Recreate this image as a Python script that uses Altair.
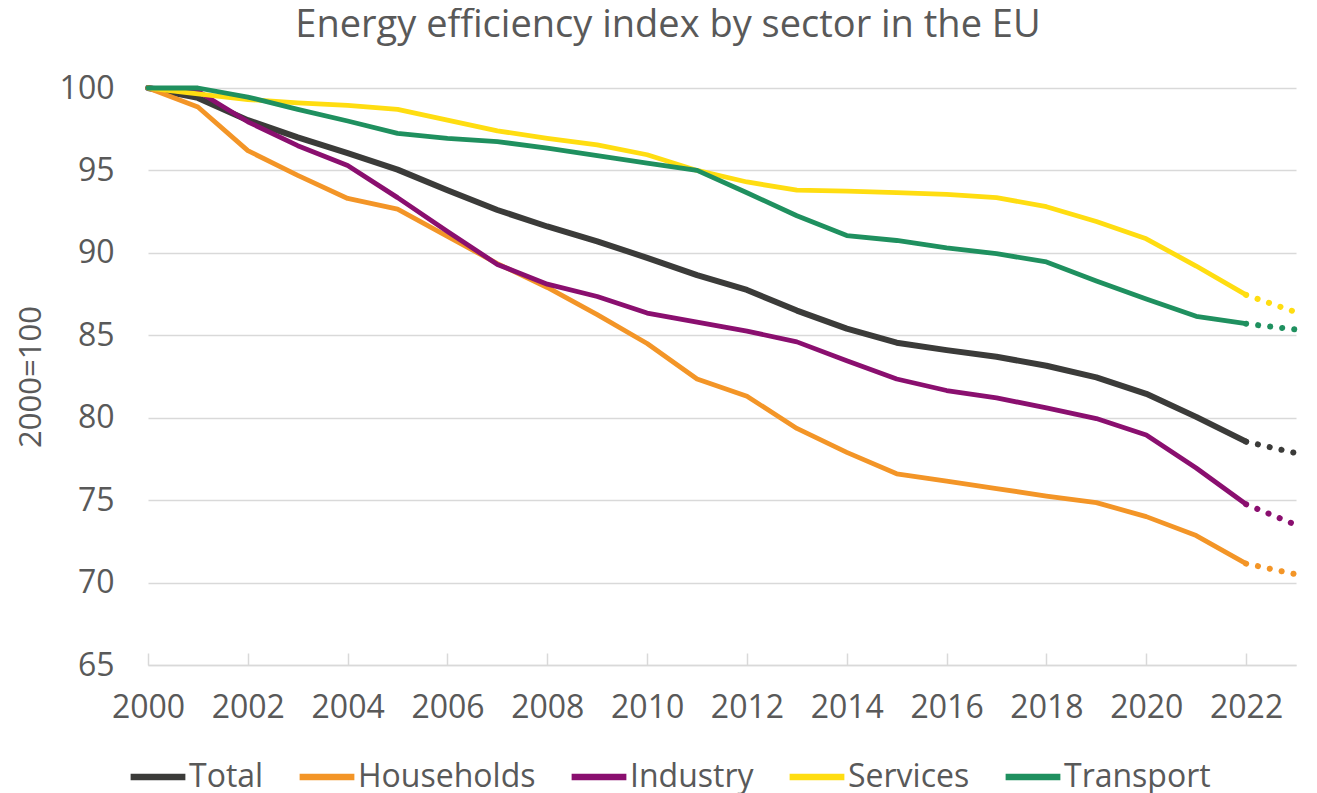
import altair as alt
import pandas as pd

years = list(range(2000, 2024))
sectors = ["Total", "Households", "Industry", "Services", "Transport"]
colors = ["#3b3b39", "#f39527", "#8a0f6f", "#ffdd11", "#1f905f"]

total = [100, 99.4, 98.05, 97.0, 96.05, 95.05, 93.8, 92.6, 91.6, 90.7, 89.7, 88.65,
         87.75, 86.5, 85.4, 84.55, 84.1, 83.7, 83.15, 82.45, 81.45, 80.05, 78.55, 77.85]
households = [100, 98.85, 96.2, 94.7, 93.3, 92.65, 91.0, 89.35, 87.9, 86.25, 84.5, 82.35,
              81.3, 79.35, 77.9, 76.6, 76.15, 75.7, 75.25, 74.85, 74.0, 72.85, 71.15, 70.5]
industry = [100, 99.8, 97.95, 96.5, 95.3, 93.35, 91.3, 89.3, 88.1, 87.35, 86.35, 85.8,
            85.25, 84.6, 83.45, 82.35, 81.65, 81.2, 80.6, 79.95, 78.95, 76.95, 74.75, 73.5]
services = [100, 99.65, 99.3, 99.1, 98.95, 98.7, 98.05, 97.4, 96.95, 96.55, 95.95, 95.0,
            94.3, 93.8, 93.75, 93.65, 93.55, 93.35, 92.8, 91.9, 90.85, 89.2, 87.45, 86.4]
transport = [100, 100, 99.45, 98.7, 98.0, 97.25, 96.95, 96.75, 96.35, 95.9, 95.45, 95.0,
             93.65, 92.25, 91.05, 90.75, 90.3, 89.95, 89.45, 88.3, 87.2, 86.15, 85.7, 85.35]

x_ticks = list(range(2000, 2023, 2))
y_ticks = [65, 70, 75, 80, 85, 90, 95, 100]

rows = []
for s, vals in zip(sectors, [total, households, industry, services, transport]):
    for yr, v in zip(years, vals):
        rows.append({"year": yr, "sector": s, "value": v})
df = pd.DataFrame(rows)

FONT = "Open Sans"
GREY = "#595959"
GRID = "#d9d9d9"

x_scale = alt.Scale(domain=[2000, 2023], nice=False, zero=False)
y_scale = alt.Scale(domain=[65, 100], nice=False, zero=False)

color = alt.Color(
    "sector:N",
    scale=alt.Scale(domain=sectors, range=colors),
    sort=sectors,
    legend=alt.Legend(
        title=None, orient="none", direction="horizontal",
        legendX=-21, legendY=658,
        symbolType="stroke", symbolSize=3000, symbolStrokeWidth=6.5,
        symbolDash=[1, 0],
        labelFont=FONT, labelFontSize=32, labelColor=GREY, labelLimit=400,
        labelOffset=0, columnPadding=22, padding=0,
    ),
)

base = alt.Chart(df).transform_calculate(
    weight="datum.sector == 'Total' ? 'thick' : 'thin'"
)

solid = base.transform_filter("datum.year <= 2022").mark_line(
    strokeCap="round", strokeJoin="round"
).encode(
    x=alt.X("year:Q", scale=x_scale, axis=alt.Axis(
        values=x_ticks, format="d", title=None, ticks=False, grid=False,
        orient="bottom", labelOverlap=False, labelFlush=False,
        domain=True, domainColor=GRID, domainWidth=1.5,
        labelFont=FONT, labelFontSize=32, labelColor=GREY, labelPadding=27,
    )),
    y=alt.Y("value:Q", scale=y_scale, axis=alt.Axis(
        values=y_ticks, title="2000=100", grid=True, gridColor=GRID, gridWidth=1.5,
        domain=False, ticks=False, labelPadding=34,
        labelFont=FONT, labelFontSize=32, labelColor=GREY,
        titleFont=FONT, titleFontSize=31, titleColor=GREY, titleFontWeight="normal",
        titlePadding=12,
    )),
    color=color,
    detail="sector:N",
    strokeWidth=alt.StrokeWidth("weight:N", scale=alt.Scale(domain=["thick", "thin"], range=[6, 4.8]), legend=None),
)

dotted = base.transform_filter("datum.year >= 2022").mark_line(
    strokeDash=[0.1, 12], strokeCap="round", strokeWidth=6
).encode(
    x=alt.X("year:Q", scale=x_scale, axis=alt.Axis(
        values=x_ticks, title=None, labels=False, grid=False, domain=False,
        orient="bottom", ticks=True, tickSize=12, tickColor=GRID, tickWidth=1.5,
        offset=-12,
    )),
    y=alt.Y("value:Q", scale=y_scale),
    color=color,
)

chart = alt.layer(solid, dotted).resolve_axis(x="independent").properties(
    width=1148, height=577,
    autosize=alt.AutoSizeParams(type="none"),
    padding={"left": 140, "top": 80, "right": 13, "bottom": 128},
    title=alt.TitleParams(
        "Energy efficiency index by sector in the EU",
        font=FONT, fontSize=38, fontWeight="normal", color=GREY,
        anchor="middle", dx=-54, offset=27,
    ),
).configure(background="white", view=alt.ViewConfig(stroke=None))

chart.save("out.html", embed_options={"renderer": "svg", "actions": False})
